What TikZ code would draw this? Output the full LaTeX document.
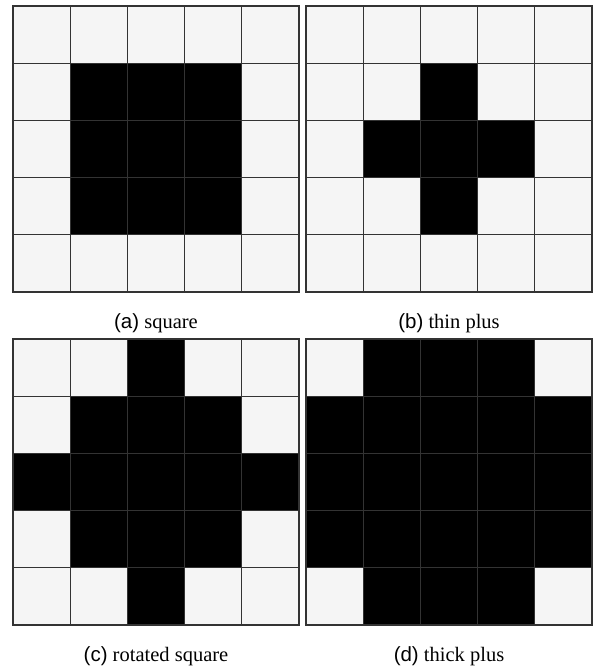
\documentclass[tikz,border=0pt]{standalone}
\usepackage{fontspec}
\setmainfont{Liberation Serif}
\newfontfamily\capsans{Liberation Sans}
\begin{document}
\begin{tikzpicture}[x=1pt,y=-1pt,
  cell/.style={rectangle,draw=black!80,line width=1.3pt,fill=black!4,minimum size=57.2pt,inner sep=0pt},
  on/.style={fill=black},
  caption/.style={font=\fontsize{20.5}{24}\selectfont,inner sep=0pt,anchor=base}]
\useasboundingbox (0,0) rectangle (595,668);
% (a) square
\foreach \r in {0,...,4}
  \foreach \c in {0,...,4}
    \node[cell] (a-\r-\c) at (41.6+57.2*\c,34.6+57.2*\r) {};
\foreach \r/\c in {1/1,1/2,1/3,2/1,2/2,2/3,3/1,3/2,3/3}
  \node[cell,on] (a-\r-\c-on) at (a-\r-\c) {};
\node[caption] (capa) at (156,328) {{\capsans (a)} square};
% (b) thin plus
\foreach \r in {0,...,4}
  \foreach \c in {0,...,4}
    \node[cell] (b-\r-\c) at (334.6+57.2*\c,34.6+57.2*\r) {};
\foreach \r/\c in {1/2,2/1,2/2,2/3,3/2}
  \node[cell,on] (b-\r-\c-on) at (b-\r-\c) {};
\node[caption] (capb) at (449,328) {{\capsans (b)} thin plus};
% (c) rotated square
\foreach \r in {0,...,4}
  \foreach \c in {0,...,4}
    \node[cell] (c-\r-\c) at (41.6+57.2*\c,367.6+57.2*\r) {};
\foreach \r/\c in {0/2,1/1,1/2,1/3,2/0,2/1,2/2,2/3,2/4,3/1,3/2,3/3,4/2}
  \node[cell,on] (c-\r-\c-on) at (c-\r-\c) {};
\node[caption] (capc) at (156,661) {{\capsans (c)} rotated square};
% (d) thick plus
\foreach \r in {0,...,4}
  \foreach \c in {0,...,4}
    \node[cell] (d-\r-\c) at (334.6+57.2*\c,367.6+57.2*\r) {};
\foreach \r/\c in {0/1,0/2,0/3,1/0,1/1,1/2,1/3,1/4,2/0,2/1,2/2,2/3,2/4,3/0,3/1,3/2,3/3,3/4,4/1,4/2,4/3}
  \node[cell,on] (d-\r-\c-on) at (d-\r-\c) {};
\node[caption] (capd) at (449,661) {{\capsans (d)} thick plus};
\end{tikzpicture}
\end{document}
